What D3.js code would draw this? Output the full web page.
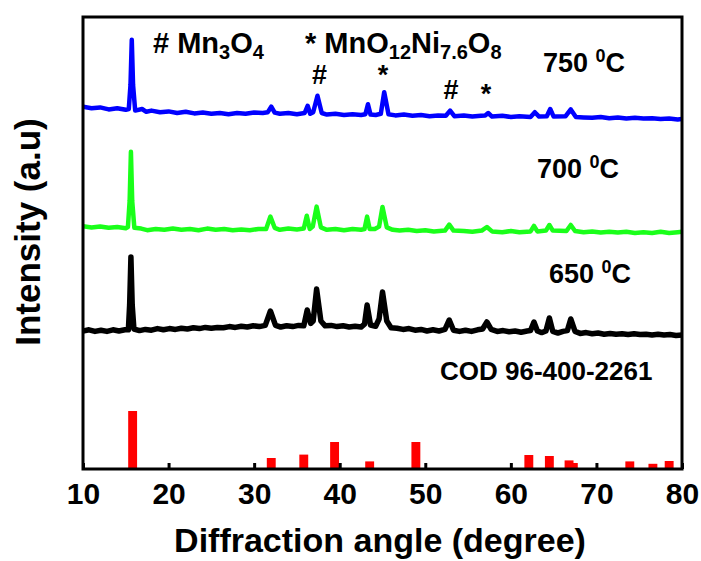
<!DOCTYPE html>
<html>
<head>
<meta charset="utf-8">
<script src="https://cdn.jsdelivr.net/npm/d3@7"></script>
<style>
  body { margin: 0; background: #fff; }
  svg text { font-family: 'Liberation Sans', Arial, sans-serif; font-weight: bold; fill: #000; }
</style>
</head>
<body>
<div id="chart"></div>
<script>
// XRD patterns, [2theta, intensity relative to the pattern's own baseline]
const pattern750 = [[10, 1.6], [11, 1.2], [12, 1.4], [13, 0.9], [14, 1.2], [15, 0.8], [15.35, 1.0], [15.55, 7], [15.7, 18.3], [15.85, 7], [16.1, 0.6], [16.9, 1.0], [17.4, 0.3], [18, 0.6], [19, 0.2], [20, 0.4], [21, 0.0], [22, 0.3], [23, -0.1], [24, 0.1], [25, -0.2], [26, 0.0], [27, -0.3], [28, 0.0], [29, -0.2], [30, 0.1], [31, 0.0], [31.6, 0.2], [32.0, 1.6], [32.4, 0.1], [33, -0.2], [34, 0.0], [35, -0.3], [35.9, 0.0], [36.25, 1.8], [36.55, -0.2], [36.9, 0.2], [37.4, 4.3], [37.9, 0.0], [38.5, -0.4], [39.5, -0.2], [40.5, -0.5], [41.5, -0.3], [42.5, -0.5], [43.0, -0.3], [43.3, 2.2], [43.6, -0.4], [44.2, -0.5], [44.8, -0.2], [45.2, 5.2], [45.7, -0.3], [46.5, -0.6], [47.5, -0.4], [48.5, -0.7], [49.5, -0.5], [50.5, -0.8], [51.5, -0.6], [52.4, -0.7], [52.9, 0.6], [53.4, -0.8], [54.5, -0.6], [55.5, -0.9], [56.5, -0.7], [57.0, -0.6], [57.35, 0.0], [57.8, -0.9], [59, -0.7], [60, -1.0], [61, -0.8], [62.3, -1.0], [62.8, 0.2], [63.3, -0.9], [64.2, -0.8], [64.6, 1.0], [65.0, -0.9], [66.4, -0.8], [67.0, 0.9], [67.6, -1.0], [68.5, -1.1], [69.5, -1.2], [70.5, -1.0], [71.5, -1.3], [72.5, -1.1], [73.5, -1.4], [74.5, -1.2], [75.5, -1.4], [76.5, -1.3], [77.5, -1.5], [78.5, -1.4], [79.5, -1.6], [80, -1.5]]

const pattern700 = [[10, 0.7], [11, 0.4], [12, 0.6], [13, 0.3], [14, 0.5], [15, 0.2], [15.25, 0.5], [15.45, 7], [15.6, 19.3], [15.75, 7], [16.0, 0.3], [16.8, 0.1], [17.5, -0.3], [18.5, 0.0], [19.5, -0.2], [20.5, 0.1], [21.5, -0.2], [22.5, 0.0], [23.5, -0.3], [24.5, 0.1], [25.5, -0.2], [26.5, 0.0], [27.5, -0.3], [28.5, -0.1], [29.5, -0.3], [30.5, 0.0], [31.4, 0.0], [31.9, 3.1], [32.4, 0.3], [33, -0.2], [34, 0.1], [35, -0.1], [35.8, 0.1], [36.15, 3.3], [36.5, 0.0], [36.85, 0.6], [37.3, 5.6], [37.8, 0.4], [38.5, -0.2], [39.5, 0.0], [40.5, -0.3], [41.5, 0.0], [42.5, -0.2], [42.9, 0.0], [43.2, 3.1], [43.5, 0.0], [44.1, 0.0], [44.6, 0.6], [45.0, 5.5], [45.5, 0.4], [46.2, -0.2], [47, -0.4], [48, -0.2], [49, -0.5], [50, -0.3], [51, -0.6], [52.3, -0.4], [52.8, 1.1], [53.3, -0.4], [54.5, -0.5], [55.5, -0.7], [56.6, -0.4], [57.2, 0.5], [57.8, -0.6], [59, -0.8], [60, -0.5], [61, -0.8], [62.3, -0.6], [62.7, 0.8], [63.1, -0.6], [64.1, -0.4], [64.5, 1.0], [64.9, -0.4], [66.5, -0.5], [67.0, 1.0], [67.5, -0.5], [68.5, -0.8], [69.5, -0.6], [70.5, -0.9], [71.5, -0.7], [72.5, -0.9], [73.5, -0.7], [74.5, -1.0], [75.5, -0.8], [76.5, -1.0], [77.5, -0.7], [78.5, -1.0], [79.5, -0.8], [80, -0.7]]

const pattern650 = [[10, 0.5], [10.7, 0.8], [11.4, 0.4], [12.1, 0.7], [12.8, 0.4], [13.5, 0.8], [14.2, 0.5], [14.9, 0.8], [15.3, 0.8], [15.45, 7], [15.6, 19], [15.75, 7], [15.95, 1.0], [16.6, 0.6], [17.3, 0.9], [18, 0.7], [18.7, 1.1], [19.4, 0.8], [20.1, 1.1], [20.8, 0.9], [21.5, 1.2], [22.2, 1.0], [22.9, 1.3], [23.6, 1.1], [24.3, 1.4], [25, 1.2], [25.7, 1.4], [26.4, 1.3], [27.1, 1.6], [27.8, 1.4], [28.5, 1.7], [29.2, 1.5], [29.9, 1.8], [30.6, 1.6], [31.3, 1.9], [31.9, 5.5], [32.5, 1.9], [33.1, 1.5], [33.8, 1.8], [34.5, 1.6], [35.2, 1.9], [35.8, 1.8], [36.2, 5.75], [36.6, 2.4], [36.9, 3.0], [37.3, 11], [37.8, 3.0], [38.3, 1.8], [39, 1.9], [39.7, 1.6], [40.4, 1.8], [41.1, 1.5], [41.8, 1.7], [42.5, 1.5], [42.9, 2.2], [43.2, 7], [43.6, 2.0], [44.2, 1.7], [44.6, 3.5], [45.0, 10.25], [45.5, 3.0], [46.0, 1.3], [46.7, 1.2], [47.4, 0.9], [48.1, 1.1], [48.8, 0.7], [49.5, 0.9], [50.2, 0.5], [50.9, 0.8], [51.6, 0.5], [52.3, 0.9], [52.8, 3.25], [53.3, 0.7], [54, 0.4], [54.7, 0.7], [55.4, 0.4], [56.1, 0.8], [56.7, 1.0], [57.2, 2.75], [57.7, 0.9], [58.4, 0.4], [59.1, 0.6], [59.8, 0.3], [60.5, 0.5], [61.2, 0.2], [61.9, 0.5], [62.3, 0.6], [62.7, 2.75], [63.1, 0.5], [63.6, 0.1], [64.1, 0.5], [64.5, 3.75], [64.9, 0.4], [65.5, 0.0], [66.1, 0.4], [66.6, 0.6], [67.0, 3.5], [67.5, 0.4], [68.1, -0.1], [68.8, 0.1], [69.5, -0.2], [70.2, 0.0], [70.9, -0.3], [71.6, -0.1], [72.3, -0.3], [73, -0.2], [73.7, -0.4], [74.4, -0.2], [75.1, -0.4], [75.8, -0.3], [76.5, -0.5], [77.2, -0.3], [77.9, -0.5], [78.6, -0.4], [79.3, -0.6], [80, -0.5]]

// stacking offset of each pattern (a.u.)
const offsets = { p750: 89, p700: 60, p650: 34 }

// reference card COD 96-400-2261
const refAngles = [15.8, 32.0, 35.8, 39.4, 43.5, 48.9, 62.1, 64.5, 66.8, 67.3, 73.9, 76.6, 78.5]
const refHeights = [14.5, 2.75, 3.6, 6.75, 1.9, 6.75, 3.5, 3.25, 2.15, 1.5, 1.9, 1.3, 2.0]

const xTicks = [10, 20, 30, 40, 50, 60, 70, 80]

const width = 701
const height = 561
const margin = { left: 83, right: 19, top: 17, bottom: 92 }

const svg = d3.select('#chart').append('svg')
    .attr('width', width)
    .attr('height', height)

const xScale = d3.scaleLinear()
    .domain([10, 80])
    .range([margin.left, width - margin.right])

const yScale = d3.scaleLinear()
    .domain([0, 113])
    .range([height - margin.bottom, margin.top])

svg.append('clipPath').attr('id', 'plot-clip')
    .append('rect')
    .attr('x', margin.left)
    .attr('y', margin.top)
    .attr('width', width - margin.left - margin.right)
    .attr('height', height - margin.top - margin.bottom)

const plot = svg.append('g').attr('clip-path', 'url(#plot-clip)')

// reference bars
const barHalf = 0.52
plot.selectAll('rect.ref')
    .data(refAngles.map((a, i) => ({ angle: a, h: refHeights[i] })))
    .enter()
    .append('rect')
    .attr('class', 'ref')
    .attr('fill', '#ff0000')
    .attr('x', d => xScale(d.angle - barHalf))
    .attr('width', d => xScale(d.angle + barHalf) - xScale(d.angle - barHalf))
    .attr('y', d => yScale(d.h))
    .attr('height', d => yScale(0) - yScale(d.h))

const drawPattern = (data, offset, color, strokeW) => {
    const line = d3.line()
        .x(d => xScale(d[0]))
        .y(d => yScale(d[1] + offset))
    plot.append('path')
        .datum(data)
        .attr('fill', 'none')
        .attr('stroke', color)
        .attr('stroke-width', strokeW)
        .attr('stroke-linejoin', 'round')
        .attr('d', line)
}

drawPattern(pattern650, offsets.p650, '#000000', 5.5)
drawPattern(pattern700, offsets.p700, '#1aff1a', 4.5)
drawPattern(pattern750, offsets.p750, '#0000ff', 4.5)

// x axis, inward ticks
const xAxis = d3.axisBottom(xScale)
    .tickValues(xTicks)
    .tickSizeInner(-6)
    .tickSizeOuter(0)
    .tickPadding(14)

const gx = svg.append('g')
    .attr('transform', `translate(0, ${height - margin.bottom})`)
    .call(xAxis)
gx.select('.domain').remove()
gx.selectAll('line').attr('stroke', '#000').attr('stroke-width', 3)
gx.selectAll('text').attr('font-size', 30).attr('fill', '#000')

// frame
svg.append('rect')
    .attr('x', margin.left)
    .attr('y', margin.top)
    .attr('width', width - margin.left - margin.right)
    .attr('height', height - margin.top - margin.bottom)
    .attr('fill', 'none')
    .attr('stroke', '#000')
    .attr('stroke-width', 3)

// axis titles
svg.append('text')
    .attr('x', 380)
    .attr('y', 552)
    .attr('text-anchor', 'middle')
    .attr('font-size', 34)
    .text('Diffraction angle (degree)')

svg.append('text')
    .attr('transform', 'translate(40, 232) rotate(-90)')
    .attr('text-anchor', 'middle')
    .attr('font-size', 35)
    .text('Intensity (a.u)')

// phase legend
const mn = svg.append('text').attr('x', 153).attr('y', 53).attr('font-size', 29)
mn.append('tspan').text('# Mn')
mn.append('tspan').attr('dy', 6).attr('font-size', 20).text('3')
mn.append('tspan').attr('dy', -6).text('O')
mn.append('tspan').attr('dy', 6).attr('font-size', 20).text('4')

const ni = svg.append('text').attr('x', 305).attr('y', 53).attr('font-size', 29)
ni.append('tspan').text('* MnO')
ni.append('tspan').attr('dy', 6).attr('font-size', 20).text('12')
ni.append('tspan').attr('dy', -6).text('Ni')
ni.append('tspan').attr('dy', 6).attr('font-size', 20).text('7.6')
ni.append('tspan').attr('dy', -6).text('O')
ni.append('tspan').attr('dy', 6).attr('font-size', 20).text('8')

// peak markers
const markers = [
    { s: '#', x: 319.5, y: 84 },
    { s: '*', x: 383, y: 84 },
    { s: '#', x: 451, y: 99 },
    { s: '*', x: 486, y: 103 }
]
svg.selectAll('text.marker')
    .data(markers)
    .enter()
    .append('text')
    .attr('class', 'marker')
    .attr('x', d => d.x)
    .attr('y', d => d.y)
    .attr('text-anchor', 'middle')
    .attr('font-size', 27)
    .text(d => d.s)

// temperature labels
const tempLabel = (t, x, y) => {
    const el = svg.append('text').attr('x', x).attr('y', y).attr('font-size', 27)
    el.append('tspan').text(t + ' ')
    el.append('tspan').attr('dy', -10).attr('font-size', 18).text('0')
    el.append('tspan').attr('dy', 10).text('C')
}
tempLabel('750', 543, 72)
tempLabel('700', 537, 178)
tempLabel('650', 549, 283)

svg.append('text')
    .attr('x', 440)
    .attr('y', 380)
    .attr('font-size', 26)
    .text('COD 96-400-2261')
</script>
</body>
</html>
